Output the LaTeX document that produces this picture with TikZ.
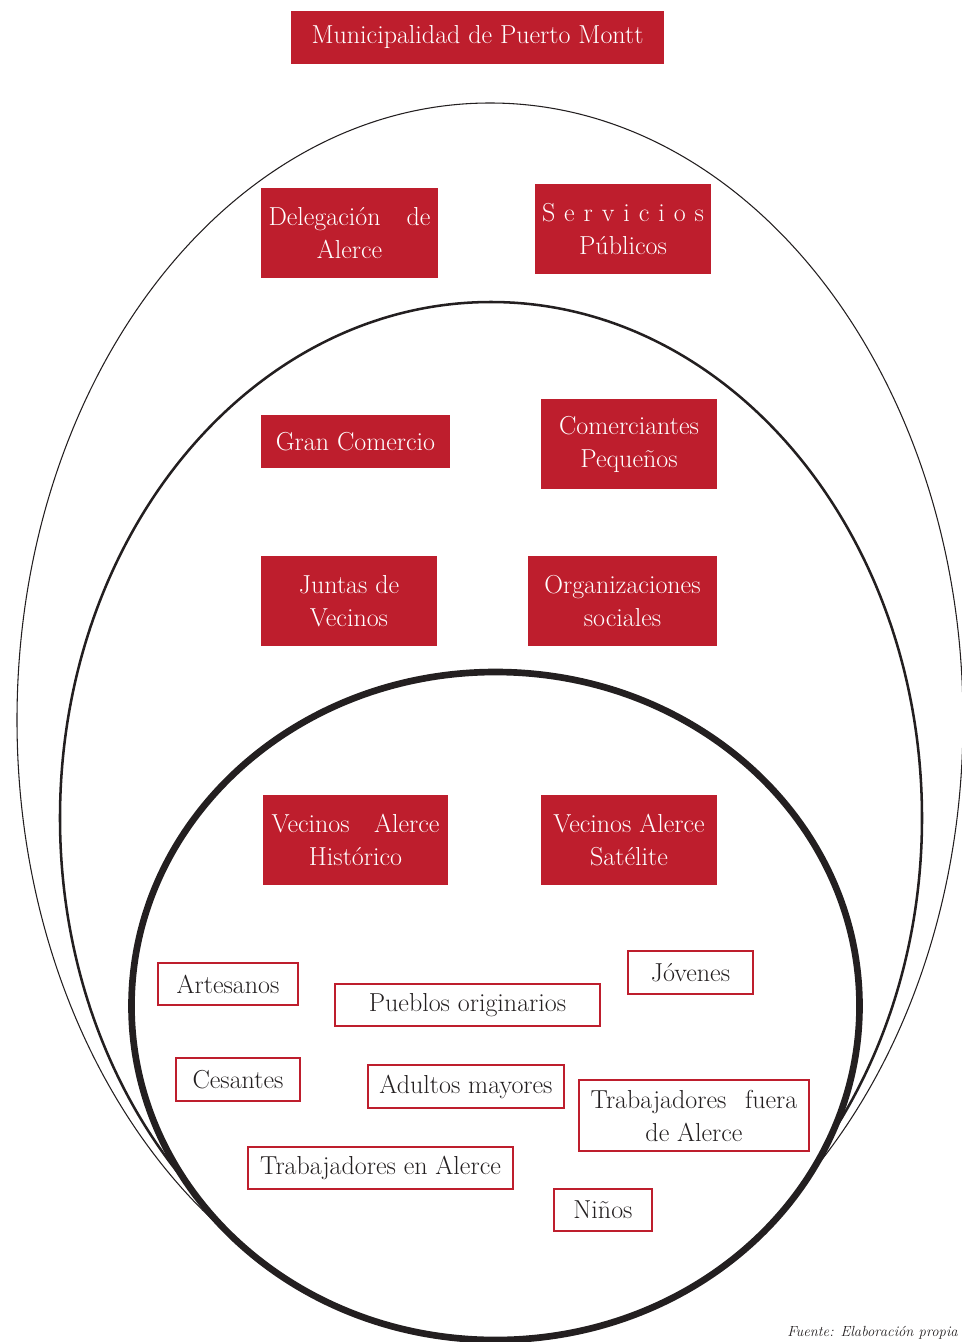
\documentclass[tikz,border=0pt]{standalone}
\usepackage{tikz}
\usetikzlibrary{positioning}
\definecolor{cRed}{HTML}{BE1E2D}
\definecolor{cInk}{HTML}{231F20}
\newcommand{\diagfont}{\fontsize{19.5}{24.75}\selectfont}
\tikzset{
  ring/.style   ={cInk,line width=0.8pt},
  midring/.style={cInk,line width=1.9pt},
  core/.style   ={cInk,line width=5pt,fill=white},
  redbox/.style ={fill=cRed,text=white,inner sep=0pt,align=center,font=\diagfont},
  linebox/.style={draw=cRed,line width=1.5pt,fill=white,text=cInk,inner sep=0pt,align=center,font=\diagfont},
}

\begin{document}
\begin{tikzpicture}[x=0.75pt,y=-0.75pt]
  \useasboundingbox (0,0) rectangle (962,1342);
  % anillos
  \draw[ring] (490,720) ellipse [x radius=473, y radius=617];
  \draw[midring] (491,818) ellipse [x radius=431, y radius=516];
  \draw[core] (495.5,1006) ellipse [x radius=364, y radius=334];

  \node[redbox,minimum width=280pt,minimum height=39.75pt] (muni) at (477.5,37.5) {Municipalidad de Puerto Montt};

  \node[redbox,minimum width=132.75pt,minimum height=67.5pt] (deleg) at (349.5,233) {\makebox[121.5pt][s]{Delegación de}\\Alerce};
  \node[redbox,minimum width=132pt,minimum height=67.5pt] (servi) at (623,229) {\makebox[121.5pt][s]{S e r v i c i o s}\\Públicos};

  \node[redbox,minimum width=141.75pt,minimum height=39.75pt] (gran) at (355.5,441.5) {Gran Comercio};
  \node[redbox,minimum width=132pt,minimum height=67.5pt] (comer) at (629,444) {Comerciantes\\Pequeños};
  \node[redbox,minimum width=132pt,minimum height=67.5pt] (juntas) at (349,601) {Juntas de\\Vecinos};
  \node[redbox,minimum width=141.75pt,minimum height=67.5pt] (orgs) at (622.5,601) {Organizaciones\\sociales};

  \node[redbox,minimum width=138.75pt,minimum height=67.5pt] (histo) at (355.5,840) {\makebox[126pt][s]{Vecinos Alerce}\\Histórico};
  \node[redbox,minimum width=132pt,minimum height=67.5pt] (satel) at (629,840) {Vecinos Alerce\\Satélite};

  \node[linebox,minimum width=105pt,minimum height=31.5pt] (artes) at (228,984) {Artesanos};
  \node[linebox,minimum width=198.75pt,minimum height=31.5pt] (pueblos) at (467.5,1005) {Pueblos originarios};
  \node[linebox,minimum width=93.75pt,minimum height=32.25pt] (jovenes) at (690.5,972.5) {Jóvenes};
  \node[linebox,minimum width=93pt,minimum height=32.25pt] (cesan) at (238,1079.5) {Cesantes};
  \node[linebox,minimum width=147pt,minimum height=32.25pt] (adultos) at (466,1086.5) {Adultos mayores};
  \node[linebox,minimum width=172.5pt,minimum height=53.25pt] (fuera) at (694,1115.5) {\makebox[155pt][s]{Trabajadores fuera}\\de Alerce};
  \node[linebox,minimum width=198.75pt,minimum height=31.5pt] (enalerce) at (380.5,1168) {Trabajadores en Alerce};
  \node[linebox,minimum width=73.5pt,minimum height=31.5pt] (ninos) at (603,1210) {Niños};

  \node[cInk,anchor=base east,inner sep=0pt,font=\fontsize{11}{13}\itshape] (fuente) at (958,1336) {Fuente: Elaboración propia};
\end{tikzpicture}
\end{document}
